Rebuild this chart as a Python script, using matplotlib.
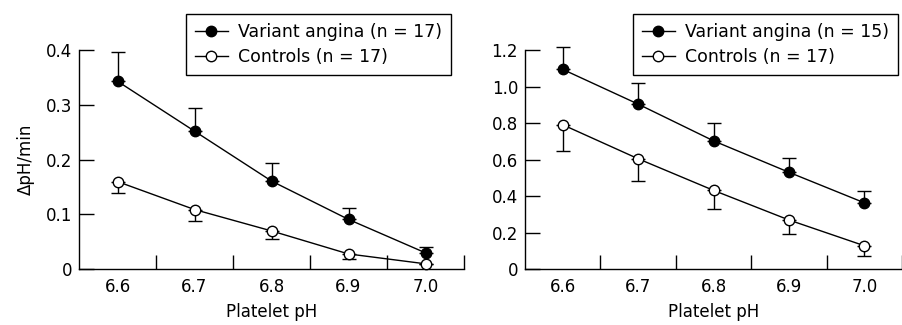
import matplotlib
matplotlib.use("Agg")
import matplotlib.pyplot as plt
import numpy as np

plt.rcParams['font.family'] = ['DejaVu Sans']

ph = [6.6, 6.7, 6.8, 6.9, 7.0]

# Left panel
va1 = [0.343, 0.252, 0.161, 0.091, 0.030]
va1_err = [0.053, 0.042, 0.032, 0.020, 0.011]
ct1 = [0.160, 0.109, 0.070, 0.028, 0.010]
ct1_err = [0.020, 0.020, 0.014, 0.009, 0.0]

# Right panel
va2 = [1.094, 0.904, 0.703, 0.531, 0.364]
va2_err = [0.122, 0.113, 0.099, 0.079, 0.066]
ct2 = [0.791, 0.605, 0.432, 0.270, 0.129]
ct2_err = [0.144, 0.122, 0.100, 0.079, 0.056]

left_labels = ["Variant angina (n = 17)", "Controls (n = 17)"]
right_labels = ["Variant angina (n = 15)", "Controls (n = 17)"]

W, H = 902, 325
fig = plt.figure(figsize=(W / 100, H / 100), dpi=100)

def px(l, b, r, t):
    return [l / W, 1 - b / H, (r - l) / W, (b - t) / H]

def draw(ax, va, vae, ct, cte, ylim, yticks, ylabels, xmax, labels, leg_right, ylabel=None):
    zeros = np.zeros(len(ph))
    ax.errorbar(ph, va, yerr=[zeros, vae], fmt='none', ecolor='black', elinewidth=1,
                capsize=5, capthick=1, clip_on=False)
    ax.errorbar(ph, ct, yerr=[cte, zeros], fmt='none', ecolor='black', elinewidth=1,
                capsize=5, capthick=1, clip_on=False)
    h1, = ax.plot(ph, va, '-o', color='black', lw=1, ms=7.5, mfc='black', mec='black',
                  clip_on=False, zorder=3)
    h2, = ax.plot(ph, ct, '-o', color='black', lw=1, ms=7.5, mfc='white', mec='black',
                  mew=1, clip_on=False, zorder=3)
    ax.set_xlim(6.55, xmax)
    ax.set_ylim(*ylim)
    ax.spines['top'].set_visible(False)
    ax.spines['right'].set_visible(False)
    ax.spines['left'].set_linewidth(1)
    ax.spines['bottom'].set_linewidth(1)
    ax.set_xticks(ph)
    ax.set_xticklabels([f"{v:.1f}" for v in ph])
    ax.set_xticks([6.65, 6.75, 6.85, 6.95, 7.05], minor=True)
    ax.tick_params(axis='x', which='major', length=0, pad=6, labelsize=12)
    ax.tick_params(axis='x', which='minor', direction='in', length=10, width=1)
    ax.set_yticks(yticks)
    ax.set_yticklabels(ylabels)
    ax.tick_params(axis='y', which='major', direction='in', length=11, width=1, pad=5, labelsize=12)
    ax.set_xlabel("Platelet pH", fontsize=12, labelpad=5)
    if ylabel:
        ax.set_ylabel(ylabel, fontsize=12, labelpad=8)
    leg = ax.legend([h1, h2], labels, loc='upper right',
                    bbox_to_anchor=(leg_right / W, 1 - 14 / H), bbox_transform=fig.transFigure,
                    fancybox=False, framealpha=1, edgecolor='black', fontsize=12.5,
                    handlelength=1.9, handletextpad=0.6, borderpad=0.5, labelspacing=0.45,
                    borderaxespad=0)
    leg.get_frame().set_linewidth(1)

ax1 = fig.add_axes(px(79, 269.3, 464, 50))
draw(ax1, va1, va1_err, ct1, ct1_err, (0, 0.4), [0, 0.1, 0.2, 0.3, 0.4],
     ["0", "0.1", "0.2", "0.3", "0.4"], 7.05, left_labels, 451, ylabel="ΔpH/min")

ax2 = fig.add_axes(px(525, 269.3, 902, 50))
draw(ax2, va2, va2_err, ct2, ct2_err, (0, 1.2), [0, 0.2, 0.4, 0.6, 0.8, 1.0, 1.2],
     ["0", "0.2", "0.4", "0.6", "0.8", "1.0", "1.2"], 7.038, right_labels, 898)

fig.savefig("out.png", dpi=100)
